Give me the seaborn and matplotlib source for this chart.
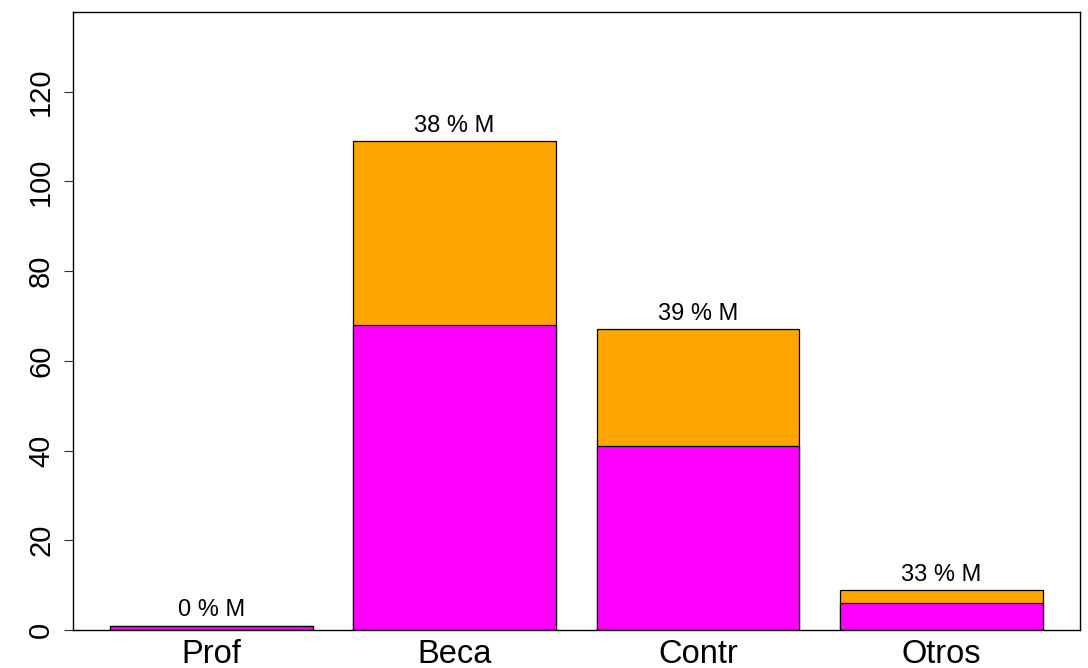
import matplotlib
matplotlib.use("Agg")
import matplotlib.pyplot as plt
import seaborn as sns
import pandas as pd

categories = ["Prof", "Beca", "Contr", "Otros"]
magenta_vals = [1, 68, 41, 6]
orange_vals = [0, 41, 26, 3]
pct_labels = ["0 % M", "38 % M", "39 % M", "33 % M"]

totals = [m + o for m, o in zip(magenta_vals, orange_vals)]
df = pd.DataFrame({"cat": categories, "mag": magenta_vals, "tot": totals})

sns.set_style("white")
plt.rcParams["font.family"] = ["Liberation Sans", "DejaVu Sans"]

fig = plt.figure(figsize=(10.88, 6.68), dpi=100)
ax = fig.add_axes([72.5 / 1088, 38 / 668, (1080 - 72.5) / 1088, (630 - 11.5) / 668])

w = 1 / 1.2
sns.barplot(data=df, x="cat", y="tot", color="#FFA500", edgecolor="black",
            linewidth=0.9, width=w, saturation=1, ax=ax, order=categories)
sns.barplot(data=df, x="cat", y="mag", color="#FF00FF", edgecolor="black",
            linewidth=0.9, width=w, saturation=1, ax=ax, order=categories)

half = w / 2
span = 3 + w
ax.set_xlim(-half - 0.04 * span, 3 + half + 0.04 * span)
ax.set_ylim(0, 137.9)

for i, (t, lab) in enumerate(zip(totals, pct_labels)):
    ax.annotate(lab, xy=(i, t), xytext=(0, 6.5), textcoords="offset points",
                ha="center", va="baseline", fontsize=17, color="black")

ax.set_yticks([0, 20, 40, 60, 80, 100, 120])
ax.set_yticklabels(["0", "20", "40", "60", "80", "100", "120"], rotation=90,
                   va="center", fontsize=21)
ax.tick_params(axis="y", which="both", left=True, length=6.5, width=0.8,
               pad=6, color="#333333", labelcolor="black")
ax.tick_params(axis="x", bottom=False, pad=3, labelsize=23.5, labelcolor="black")
ax.set_xlabel("")
ax.set_ylabel("")
for s in ax.spines.values():
    s.set_visible(True)
    s.set_color("black")
    s.set_linewidth(1.0)

fig.savefig("out.png", dpi=100)
